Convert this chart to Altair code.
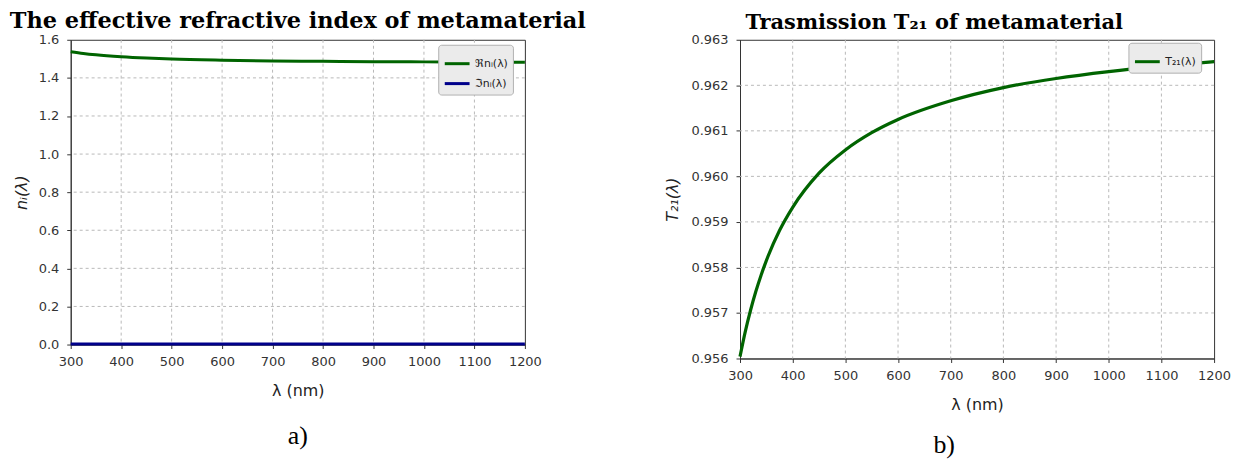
import altair as alt
import pandas as pd

# ---------------- data ----------------
wl_a = [300, 325, 350, 400, 450, 500, 600, 700, 800, 900, 1000, 1100, 1200]
re_n = [1.537, 1.528, 1.521, 1.511, 1.504, 1.499, 1.493, 1.489, 1.487, 1.485, 1.484, 1.483, 1.482]
im_n = [0.003, 0.003, 0.003, 0.003, 0.003, 0.003, 0.003, 0.003, 0.003, 0.003, 0.003, 0.003, 0.003]
series_a = ["ℜnᵢ(λ)", "ℑnᵢ(λ)"]

wl_b = [300, 310, 320, 330, 340, 350, 375, 400, 450, 500, 550, 600, 700, 800, 900, 1000, 1100, 1200]
t21 = [0.95604, 0.95659, 0.95706, 0.95747, 0.95783, 0.95815, 0.95881, 0.95932, 0.96007,
       0.96058, 0.96096, 0.96125, 0.96166, 0.96195, 0.96215, 0.96230, 0.96242, 0.96252]
series_b = ["T₂₁(λ)"]

x_ticks = [300, 400, 500, 600, 700, 800, 900, 1000, 1100, 1200]
ya_ticks = [0.0, 0.2, 0.4, 0.6, 0.8, 1.0, 1.2, 1.4, 1.6]
yb_ticks = [0.956, 0.957, 0.958, 0.959, 0.960, 0.961, 0.962, 0.963]
x_grid = [400, 500, 600, 700, 800, 900, 1000, 1100]
ya_grid = [0.2, 0.4, 0.6, 0.8, 1.0, 1.2, 1.4]
yb_grid = [0.957, 0.958, 0.959, 0.960, 0.961, 0.962]

dfa = pd.DataFrame({
    "wl": wl_a + wl_a,
    "n": re_n + im_n,
    "series": [series_a[0]] * len(wl_a) + [series_a[1]] * len(wl_a),
})
dfb = pd.DataFrame({"wl": wl_b, "t": t21, "series": [series_b[0]] * len(wl_b)})

GREEN = "#006400"
BLUE = "#00008b"
GRID = "#b8b8b8"

axis_style = dict(
    labelFont="DejaVu Sans", labelFontSize=13, labelColor="#333",
    titleFont="DejaVu Sans", titleFontSize=16, titleColor="#222",
    titleFontWeight="normal", tickColor="#333", domainColor="#333",
    grid=False, tickSize=4, labelFlush=False,
)

legend_style = dict(
    orient="none", title=None, symbolType="stroke", symbolStrokeWidth=3,
    symbolSize=620, fillColor="#ebebeb", strokeColor="#b0b0b0", padding=5,
    cornerRadius=3, labelFont="DejaVu Sans", labelFontSize=11, labelColor="#222",
    rowPadding=0,
)

WA, HA = 456, 306
WB, HB = 476, 320

xs = alt.Scale(domain=[300, 1200], nice=False)
ysa = alt.Scale(domain=[0, 1.6], nice=False)
ysb = alt.Scale(domain=[0.956, 0.963], nice=False, zero=False)

x_axis = alt.Axis(values=x_ticks, title="λ (nm)", format="d",
                  labelPadding=7, titlePadding=14, **axis_style)
ya_axis = alt.Axis(values=ya_ticks, format=".1f", title="nᵢ(λ)",
                   titleFontStyle="italic", labelPadding=8, titlePadding=9, **axis_style)
yb_axis = alt.Axis(values=yb_ticks, format=".3f", title="T₂₁(λ)",
                   titleFontStyle="italic", labelPadding=8, titlePadding=11, **axis_style)


def vgrid(vals, scale, axis):
    return alt.Chart(pd.DataFrame({"g": vals})).mark_rule(
        color=GRID, strokeDash=[3, 3], strokeWidth=1
    ).encode(x=alt.X("g:Q", scale=scale, axis=axis))


def hgrid(vals, scale, axis):
    return alt.Chart(pd.DataFrame({"g": vals})).mark_rule(
        color=GRID, strokeDash=[3, 3], strokeWidth=1
    ).encode(y=alt.Y("g:Q", scale=scale, axis=axis))


# ---------------- panel a ----------------
lines_a = alt.Chart(dfa).mark_line(strokeWidth=3, interpolate="monotone").encode(
    x=alt.X("wl:Q", scale=xs, axis=x_axis),
    y=alt.Y("n:Q", scale=ysa, axis=ya_axis),
    color=alt.Color("series:N",
                    scale=alt.Scale(domain=series_a, range=[GREEN, BLUE]),
                    legend=alt.Legend(legendX=369, legendY=5, **legend_style)),
)
lab_a = alt.Chart(pd.DataFrame({"t": ["a)"]})).mark_text(
    font="Liberation Serif", fontSize=26, color="black"
).encode(text="t:N", x=alt.value(WA / 2), y=alt.value(HA + 92))

panel_a = alt.layer(vgrid(x_grid, xs, x_axis), hgrid(ya_grid, ysa, ya_axis),
                    lines_a, lab_a).properties(
    width=WA, height=HA,
    title=alt.TitleParams("The effective refractive index of metamaterial",
                          font="DejaVu Serif", fontSize=22.5, fontWeight="bold",
                          color="black", anchor="middle", offset=1),
)

# ---------------- panel b ----------------
lines_b = alt.Chart(dfb).mark_line(strokeWidth=3.2, interpolate="monotone").encode(
    x=alt.X("wl:Q", scale=xs, axis=x_axis),
    y=alt.Y("t:Q", scale=ysb, axis=yb_axis),
    color=alt.Color("series:N", scale=alt.Scale(domain=series_b, range=[GREEN]),
                    legend=alt.Legend(legendX=390, legendY=3, **legend_style)),
)
lab_b = alt.Chart(pd.DataFrame({"t": ["b)"]})).mark_text(
    font="Liberation Serif", fontSize=26, color="black"
).encode(text="t:N", x=alt.value(205), y=alt.value(HB + 87))

panel_b = alt.layer(vgrid(x_grid, xs, x_axis), hgrid(yb_grid, ysb, yb_axis),
                    lines_b, lab_b).properties(
    width=WB, height=HB,
    title=alt.TitleParams("Trasmission T₂₁ of metamaterial",
                          font="DejaVu Serif", fontSize=21, fontWeight="bold",
                          color="black", anchor="middle", offset=1, dx=-43),
)

chart = alt.hconcat(panel_a, panel_b, spacing=216, bounds="flush").resolve_scale(
    color="independent"
).resolve_legend(color="independent").properties(
    padding={"left": 9, "top": 9, "right": 5, "bottom": 5},
    background="white",
).configure_view(stroke="#333", strokeWidth=1)

chart.save("out.html", embed_options={"renderer": "svg", "actions": False})
